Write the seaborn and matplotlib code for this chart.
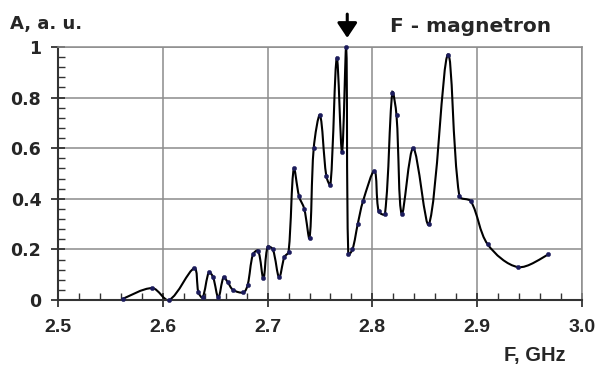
import numpy as np
import pandas as pd
import seaborn as sns
import matplotlib
matplotlib.use("Agg")
import matplotlib.pyplot as plt
from matplotlib.path import Path
from matplotlib.patches import PathPatch
from matplotlib.ticker import MultipleLocator, FuncFormatter

# magnetron spectrum
freq = [2.562, 2.590, 2.606, 2.630, 2.634, 2.638, 2.644, 2.648, 2.653, 2.658,
        2.662, 2.667, 2.677, 2.681, 2.686, 2.691, 2.696, 2.700, 2.705, 2.711,
        2.716, 2.720, 2.725, 2.730, 2.735, 2.740, 2.744, 2.750, 2.756, 2.760,
        2.766, 2.771, 2.775, 2.777, 2.781, 2.786, 2.791, 2.802, 2.806, 2.812,
        2.819, 2.823, 2.828, 2.839, 2.854, 2.872, 2.883, 2.894, 2.910, 2.939,
        2.968]
amp = [0.005, 0.047, 0.0, 0.125, 0.03, 0.01, 0.11, 0.09, 0.01, 0.09,
       0.07, 0.04, 0.03, 0.06, 0.18, 0.195, 0.085, 0.21, 0.20, 0.09,
       0.17, 0.19, 0.52, 0.41, 0.36, 0.245, 0.60, 0.73, 0.49, 0.455,
       0.955, 0.585, 1.0, 0.18, 0.20, 0.30, 0.39, 0.51, 0.35, 0.34,
       0.82, 0.73, 0.34, 0.60, 0.30, 0.97, 0.41, 0.39, 0.22, 0.13,
       0.18]
xticks = [2.5, 2.6, 2.7, 2.8, 2.9, 3.0]
yticks = [0, 0.2, 0.4, 0.6, 0.8, 1]
marker_freq = 2.776

df = pd.DataFrame({"freq": freq, "amp": amp})

sns.set_style("ticks")
plt.rcParams['font.family'] = ['DejaVu Sans']
plt.rcParams['font.weight'] = 'bold'


def smooth_path(x, y, sx=1048.0, sy=253.0):
    # excel-like smoothed line: cubic bezier through every point,
    # tangents weighted by segment lengths measured on screen
    pts = np.column_stack([x, y]).astype(float)
    scr = pts * [sx, sy]
    n = len(pts)

    def d(i, j):
        return np.hypot(*(scr[j] - scr[i]))

    verts = [pts[0]]
    codes = [Path.MOVETO]
    for i in range(n - 1):
        i0 = max(i - 1, 0)
        i3 = min(i + 2, n - 1)
        d01, d12, d23 = d(i0, i), d(i, i + 1), d(i + 1, i3)
        w1 = d12 / (d01 + d12) / 3 if d01 > 0 else 1 / 6
        w2 = d12 / (d12 + d23) / 3 if d23 > 0 else 1 / 6
        c1 = pts[i] + (pts[i + 1] - pts[i0]) * w1
        c2 = pts[i + 1] - (pts[i3] - pts[i]) * w2
        verts += [c1, c2, pts[i + 1]]
        codes += [Path.CURVE4] * 3
    return Path(verts, codes)


fig = plt.figure(figsize=(5.99, 3.65), dpi=100)
ax = fig.add_axes([58 / 599, 65 / 365, 524 / 599, 253 / 365])

ax.add_patch(PathPatch(smooth_path(df.freq, df.amp), fill=False,
                       edgecolor='black', lw=1.5, zorder=2))
sns.scatterplot(data=df, x="freq", y="amp", ax=ax, color='#1c1c5c', s=10,
                edgecolor=None, zorder=3, clip_on=False)

ax.set_xlim(2.5, 3.0)
ax.set_ylim(0, 1)
ax.set_xlabel('')
ax.set_ylabel('')
ax.set_xticks(xticks)
ax.set_yticks(yticks)
ax.xaxis.set_minor_locator(MultipleLocator(0.02))
ax.yaxis.set_minor_locator(MultipleLocator(0.04))
ax.xaxis.set_major_formatter(FuncFormatter(lambda v, p: f'{v:.1f}'))
ax.yaxis.set_major_formatter(FuncFormatter(lambda v, p: f'{v:g}'))

ax.grid(which='major', color='#8c8c8c', lw=1.1)
for s in ['top', 'right']:
    ax.spines[s].set_color('#8c8c8c')
    ax.spines[s].set_linewidth(1.1)
for s in ['left', 'bottom']:
    ax.spines[s].set_color('#333333')
    ax.spines[s].set_linewidth(1.5)

ax.tick_params(which='major', direction='inout', length=10, width=1.3,
               color='#333333')
ax.tick_params(which='minor', direction='in', length=5, width=1.0,
               color='#333333')
ax.tick_params(axis='y', labelsize=12.5, pad=7)
ax.tick_params(axis='x', labelsize=14, pad=9, labelfontfamily='Liberation Sans')

ax.annotate('', xy=(marker_freq, 1.036), xytext=(marker_freq, 1.13),
            arrowprops=dict(arrowstyle='-|>,head_length=0.45,head_width=0.3',
                            lw=2.2, color='black', mutation_scale=20,
                            shrinkA=0, shrinkB=0),
            annotation_clip=False)
ax.text(2.817, 1.083, 'F - magnetron', fontsize=14.5, va='center',
        ha='left', clip_on=False)

fig.text(10 / 599, 1 - 23.5 / 365, 'A, a. u.', fontsize=13, va='center')
fig.text(566 / 599, 1 - 356 / 365, 'F, GHz', fontsize=14.5, va='center',
         ha='right', family='Liberation Sans')

fig.savefig('out.png', dpi=100, facecolor='white')
